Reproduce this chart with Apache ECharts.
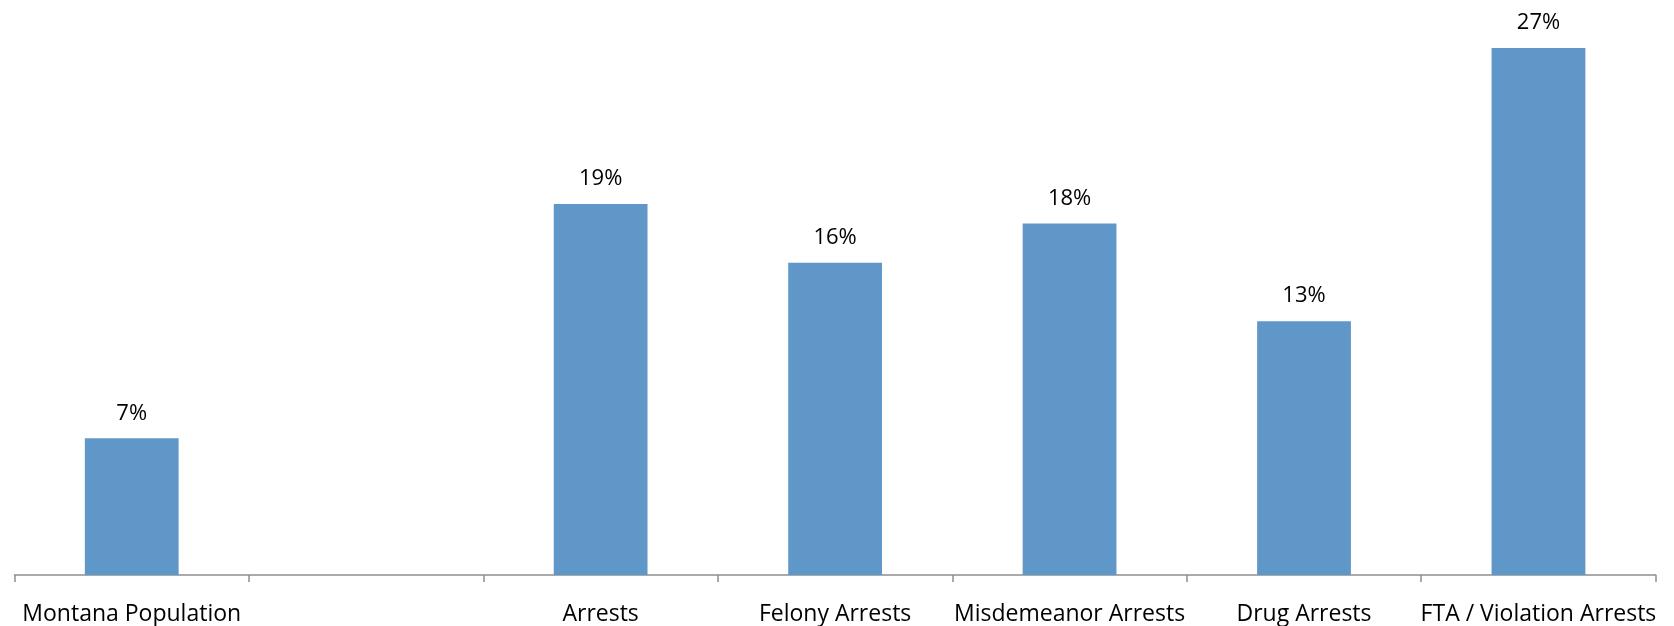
<!DOCTYPE html>
<html>
<head>
<meta charset="utf-8">
<script src="https://cdn.jsdelivr.net/npm/echarts@6/dist/echarts.min.js"></script>
<style>
html,body{margin:0;padding:0;background:#fff;}
#chart{width:1674px;height:626px;}
</style>
</head>
<body>
<div id="chart"></div>
<script>
const categories = ["Montana Population", "", "Arrests", "Felony Arrests", "Misdemeanor Arrests", "Drug Arrests", "FTA / Violation Arrests"];
const values = [7, null, 19, 16, 18, 13, 27];

const chart = echarts.init(document.getElementById('chart'));
chart.setOption({
  animation: false,
  backgroundColor: '#ffffff',
  grid: { left: 14.5, right: 18.3, top: 28.4, bottom: 51, containLabel: false },
  xAxis: {
    type: 'category',
    data: categories,
    axisLine: { lineStyle: { color: '#8e8e8e', width: 1.5 } },
    axisTick: { show: true, alignWithLabel: false, interval: 0, length: 7, lineStyle: { color: '#8e8e8e', width: 1.5 } },
    axisLabel: { color: '#000', fontFamily: 'Open Sans', fontSize: 23, margin: 28, interval: 0 }
  },
  yAxis: {
    type: 'value', min: 0, max: 28,
    show: false,
    splitLine: { show: false }
  },
  series: [{
    type: 'bar',
    data: values,
    barWidth: '40%',
    itemStyle: { color: '#6097C9' },
    label: {
      show: true, position: 'top', distance: 14,
      formatter: p => p.value + '%',
      color: '#000', fontFamily: 'Open Sans', fontSize: 22
    }
  }]
});
</script>
</body>
</html>
